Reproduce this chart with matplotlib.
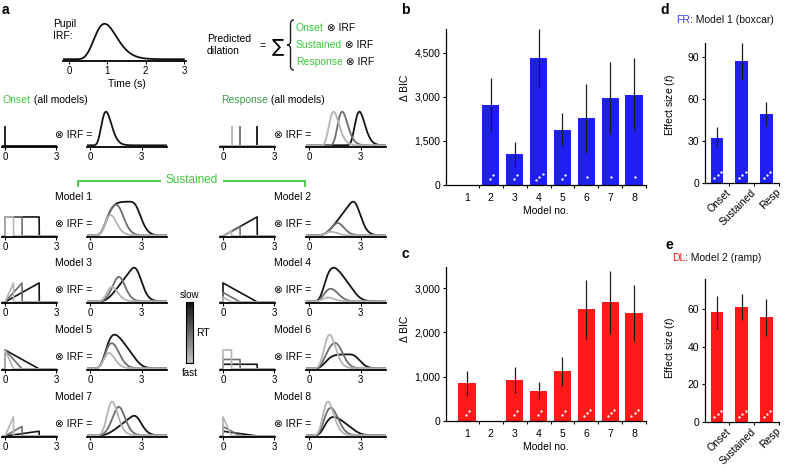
import numpy as np
import matplotlib.pyplot as plt
from matplotlib.colors import LinearSegmentedColormap
from matplotlib.transforms import blended_transform_factory, ScaledTranslation
from matplotlib.path import Path
from matplotlib.patches import PathPatch

plt.rcParams['font.family'] = ['Liberation Sans', 'DejaVu Sans']
plt.rcParams['font.size'] = 7
plt.rcParams['mathtext.fontset'] = 'custom'
plt.rcParams['mathtext.it'] = 'Liberation Sans:italic'
plt.rcParams['mathtext.rm'] = 'Liberation Sans'

W, H = 788, 472

# ---- panels b, c: delta BIC per model ----
models = [1, 2, 3, 4, 5, 6, 7, 8]
fr_bic = [0, 2720, 1060, 4300, 1860, 2290, 2950, 3070]
fr_bic_lo = [0, 1810, 620, 3300, 1320, 1095, 1740, 1830]
fr_bic_hi = [0, 3620, 1470, 5290, 2430, 3445, 4180, 4300]
fr_stars = [0, 2, 2, 3, 2, 1, 1, 1]
dl_bic = [850, 0, 935, 678, 1120, 2520, 2680, 2450]
dl_bic_lo = [562, 0, 638, 500, 800, 1860, 1970, 1810]
dl_bic_hi = [1140, 0, 1225, 880, 1445, 3180, 3380, 3072]
dl_stars = [2, 0, 2, 2, 2, 3, 3, 3]

# ---- panels d, e: effect sizes ----
regressors = ['Onset', 'Sustained', 'Resp']
fr_t = [32.4, 87.2, 49.4]
fr_t_lo = [25.5, 74.2, 41.1]
fr_t_hi = [39.7, 100.0, 57.6]
fr_t_stars = [3, 3, 3]
dl_t = [58.2, 61.0, 55.7]
dl_t_lo = [49.3, 54.3, 45.7]
dl_t_hi = [66.8, 68.2, 65.6]
dl_t_stars = [3, 3, 3]

# ---- panel a: schematic ----
rts = [0.5, 1.0, 2.0]            # fast, medium, slow RT (s)
rt_colors = ['#b4b4b4', '#6e6e6e', '#151515']
irf_n, irf_tmax = 10.1, 0.93     # pupil IRF (Hoeks & Levelt)

BLUE = '#1f1ff2'
RED = '#ff1a1a'
GREEN = '#3cc83c'
GREEN2 = '#3a9f48'

fig = plt.figure(figsize=(W / 100, H / 100), dpi=100)
bg = fig.add_axes([0, 0, 1, 1])
bg.set_xlim(0, W)
bg.set_ylim(H, 0)
bg.axis('off')


def px_axes(x0, x1, y0, y1):
    return fig.add_axes([x0 / W, 1 - y1 / H, (x1 - x0) / W, (y1 - y0) / H])


def time_axes(zero_px, scale, lo, hi, y_top, y_spine, ticks):
    ax = px_axes(zero_px + lo * scale, zero_px + hi * scale, y_top, y_spine)
    ax.set_xlim(lo, hi)
    ax.set_ylim(-0.05, 1.05)
    for s in ['top', 'right', 'left']:
        ax.spines[s].set_visible(False)
    ax.spines['bottom'].set_linewidth(1.3)
    ax.set_yticks([])
    ax.set_xticks(ticks)
    ax.set_xticklabels([str(v) for v in ticks])
    ax.tick_params(axis='x', length=2, width=0.8, pad=1.5, labelsize=7)
    ax.patch.set_visible(False)
    return ax


def multi_text(x, y, parts, size=7.5):
    t = bg.text(x, y, parts[0][0], color=parts[0][1], fontsize=size, va='center', ha='left')
    for s, c in parts[1:]:
        t = bg.annotate(s, xy=(1, 0), xycoords=t, color=c, fontsize=size, va='bottom', ha='left')
    return t


def brace(x0, x1, y0, y1):
    xm = (x0 + x1) / 2
    ym = (y0 + y1) / 2
    r = 4
    verts = [(x1, y0), (xm, y0), (xm, y0 + r), (xm, ym - r), (xm, ym), (x0, ym),
             (xm, ym), (xm, ym + r), (xm, y1 - r), (xm, y1), (x1, y1)]
    codes = [Path.MOVETO, Path.CURVE3, Path.CURVE3, Path.LINETO, Path.CURVE3, Path.CURVE3,
             Path.CURVE3, Path.CURVE3, Path.LINETO, Path.CURVE3, Path.CURVE3]
    bg.add_patch(PathPatch(Path(verts, codes), fc='none', ec='#222', lw=1.0))


# IRF and kernels
dt = 0.005
t = np.arange(0, 4.6, dt)
irf = t ** irf_n * np.exp(-irf_n * t / irf_tmax)
irf = irf / irf.sum()


def kernel(model, rt):
    if model == 1:
        k = np.ones_like(t)
    elif model == 2:
        k = t.copy()
    elif model == 3:
        k = t / rt
    elif model == 4:
        k = rt - t
    elif model == 5:
        k = 1 - t / rt
    elif model == 6:
        k = np.full_like(t, 1 / rt)
    elif model == 7:
        k = t / rt ** 2
    else:
        k = (1 - t / rt) / rt
    return np.where(t < rt, k, 0.0)


def conv(k):
    return np.convolve(k, irf)[:len(t)]


K_ZERO_L, O_ZERO_L = 5, 90
K_ZERO_R, O_ZERO_R = 223, 309
K_SCALE, O_SCALE = 17.1, 17.2


def kernel_axes(zero, spine):
    return time_axes(zero, K_SCALE, -0.15, 3.05, spine - 21, spine, [0, 3])


def output_axes(zero, spine):
    return time_axes(zero, O_SCALE, -0.17, 4.5, spine - 37, spine, [0, 3])


# top: IRF
ax = time_axes(69, 38.3, -0.16, 3.05, 22, 61, [0, 1, 2, 3])
sel = t <= 3.0
ax.plot(np.r_[-0.16, t[sel]], np.r_[0, irf[sel] / irf.max()], color='#111', lw=1.3)
bg.text(53, 30, 'Pupil\nIRF:', fontsize=7.5, va='center', ha='left', linespacing=1.15)
bg.text(127, 84, 'Time (s)', fontsize=7.5, ha='center', va='center')

bg.text(207, 45, 'Predicted\ndilation', fontsize=7.5, va='center', ha='left', linespacing=1.15)
bg.text(263, 46, '=', fontsize=7.5, va='center', ha='center')
bg.text(278, 46, '\u2211', fontsize=13, va='center', ha='center', family='DejaVu Sans')
brace(287, 294, 20, 70)
for yy, name in zip([28, 45, 62], ['Onset', 'Sustained', 'Response']):
    multi_text(296, yy, [(name, GREEN), (' \u2297 IRF', 'black')])

# onset row
multi_text(3, 100, [('Onset', GREEN), (' (all models)', 'black')])
multi_text(221, 100, [('Response', GREEN2), (' (all models)', 'black')])

ax = kernel_axes(K_ZERO_L, 147)
ax.plot([-0.15, 3.0], [0, 0], color=rt_colors[2], lw=1.3)
ax.plot([0, 0], [0, 1], color=rt_colors[2], lw=1.3)
bg.text(55, 135, '\u2297 IRF =', fontsize=7.5, va='center')
ax = output_axes(O_ZERO_L, 147)
y = irf / irf.max()
ax.plot(np.r_[-0.17, t], np.r_[0, y], color=rt_colors[2], lw=1.3)

ax = kernel_axes(K_ZERO_R, 147)
for rt, c in list(zip(rts, rt_colors))[::-1]:
    ax.plot([-0.15, 3.0], [0, 0], color=c, lw=1.3)
    ax.plot([rt, rt], [0, 1], color=c, lw=1.3)
bg.text(274, 135, '\u2297 IRF =', fontsize=7.5, va='center')
ax = output_axes(O_ZERO_R, 147)
resp = []
for rt in rts:
    shift = int(round(rt / dt))
    resp.append(np.r_[np.zeros(shift), irf[:len(t) - shift]])
m = max(r.max() for r in resp)
for r, c in list(zip(resp, rt_colors))[::-1]:
    ax.plot(np.r_[-0.17, t], np.r_[0, r / m], color=c, lw=1.3)

# sustained bracket
bg.plot([78, 78, 160], [186, 181, 181], color=GREEN, lw=1.3)
bg.plot([224, 305, 305], [181, 181, 186], color=GREEN, lw=1.3)
bg.text(192, 180, 'Sustained', color=GREEN, fontsize=8.5, ha='center', va='center')

row_spines = [237, 303, 370, 437]
for i, spine in enumerate(row_spines):
    for j, (kz, oz, tx) in enumerate([(K_ZERO_L, O_ZERO_L, 55), (K_ZERO_R, O_ZERO_R, 274)]):
        model = 2 * i + j + 1
        bg.text(tx, spine - 40, 'Model %d' % model, fontsize=7.5, va='center', ha='left')
        bg.text(tx, spine - 13, '\u2297 IRF =', fontsize=7.5, va='center', ha='left')
        ks = [kernel(model, rt) for rt in rts]
        km = max(k.max() for k in ks)
        ax = kernel_axes(kz, spine)
        sel = t <= 3.0
        for k, c in list(zip(ks, rt_colors))[::-1]:
            ax.plot(np.r_[-0.15, 0, t[sel]], np.r_[0, 0, k[sel] / km], color=c, lw=1.2)
        outs = [conv(k) for k in ks]
        om = max(o.max() for o in outs)
        ax = output_axes(oz, spine)
        for o, c in list(zip(outs, rt_colors))[::-1]:
            ax.plot(np.r_[-0.17, t], np.r_[0, o / om], color=c, lw=1.3)

# RT colour bar
cax = px_axes(186, 193, 302, 363)
cmap = LinearSegmentedColormap.from_list('rt', ['#c4c4c4', '#101010'])
cax.imshow(np.linspace(0, 1, 100)[:, None], cmap=cmap, aspect='auto', origin='lower')
cax.set_xticks([])
cax.set_yticks([])
for s in cax.spines.values():
    s.set_linewidth(0.8)
bg.text(189.5, 295, 'slow', fontsize=7, ha='center', va='center')
bg.text(189.5, 373, 'fast', fontsize=7, ha='center', va='center')
bg.text(196, 333, 'RT', fontsize=7.5, ha='left', va='center')


# ---- bar panels ----
def bar_style(ax):
    for s in ['top', 'right']:
        ax.spines[s].set_visible(False)
    for s in ['left', 'bottom']:
        ax.spines[s].set_linewidth(0.9)
    ax.tick_params(axis='y', length=2.5, width=0.8, pad=1.5, labelsize=7.5)
    ax.tick_params(axis='x', which='major', length=0, pad=6, labelsize=7.5)
    ax.tick_params(axis='x', which='minor', length=2.5, width=0.8)
    ax.patch.set_visible(False)


def draw_bars(ax, x, vals, lo, hi, stars, color, width, h_px):
    ax.bar(x, vals, width=width, color=color, zorder=2)
    for xi, v, l, h in zip(x, vals, lo, hi):
        if v > 0:
            ax.vlines(xi, l, h, color='#1a1a1a', lw=0.9, zorder=3)
    tr = blended_transform_factory(ax.transData, ax.transAxes)
    dy = 3.2 / h_px
    for xi, n in zip(x, stars):
        if n == 0:
            continue
        off = np.arange(n) - (n - 1) / 2
        ax.plot(xi + 0.03 + 0.14 * off, 8 / h_px + dy * off, 'o', ms=1.7, mec='none',
                color='white', transform=tr, zorder=4)


xpos = np.arange(1, len(models) + 1)
for (y0, y1, vals, lo, hi, stars, color, ymax, yt, letter_y, lab_frac) in [
        (29, 185, fr_bic, fr_bic_lo, fr_bic_hi, fr_stars, BLUE, 5300, [0, 1500, 3000, 4500], 10, 0.62),
        (267, 421, dl_bic, dl_bic_lo, dl_bic_hi, dl_stars, RED, 3480, [0, 1000, 2000, 3000], 254, 0.6)]:
    ax = px_axes(446, 646, y0, y1)
    draw_bars(ax, xpos, vals, lo, hi, stars, color, 0.72, y1 - y0)
    ax.set_xlim(0.12, 8.5)
    ax.set_ylim(0, ymax)
    ax.set_yticks(yt)
    ax.set_yticklabels(['{:,}'.format(v) for v in yt])
    ax.set_xticks(xpos)
    ax.set_xticklabels([str(m) for m in models])
    ax.set_xticks(xpos + 0.5, minor=True)
    bar_style(ax)
    ax.set_xlabel('Model no.', fontsize=7.5, labelpad=2)
    ax.set_ylabel('\u0394 BIC', fontsize=7.5)
    ax.yaxis.set_label_coords(-36 / 200, lab_frac)
    bg.text(405, letter_y, 'b' if color == BLUE else 'c', fontsize=10, weight='bold',
            ha='center', va='center')

rpos = np.arange(1, len(regressors) + 1)
for (y0, y1, vals, lo, hi, stars, color, ymax, yt, letter, lx, ly, name, rest, tx, ty, lab_frac) in [
        (43, 183, fr_t, fr_t_lo, fr_t_hi, fr_t_stars, BLUE, 100, [0, 30, 60, 90], 'd', 665, 10,
         'FR', ': Model 1 (boxcar)', 676, 20, 0.56),
        (279, 422, dl_t, dl_t_lo, dl_t_hi, dl_t_stars, RED, 76, [0, 20, 40, 60], 'e', 669, 245,
         'DL', ': Model 2 (ramp)', 672, 258, 0.52)]:
    ax = px_axes(705, 779, y0, y1)
    draw_bars(ax, rpos, vals, lo, hi, stars, color, 0.52, y1 - y0)
    ax.set_xlim(0.51, 3.52)
    ax.set_ylim(0, ymax)
    ax.set_yticks(yt)
    ax.set_xticks(rpos)
    ax.set_xticks(rpos + 0.5, minor=True)
    bar_style(ax)
    ax.tick_params(axis='x', which='major', pad=3)
    ax.set_xticklabels(regressors, rotation=45, ha='right', va='top', rotation_mode='anchor')
    for lab in ax.get_xticklabels():
        lab.set_transform(lab.get_transform() + ScaledTranslation(0.09, 0, fig.dpi_scale_trans))
    ax.set_ylabel('Effect size ($\\it{t}$)', fontsize=7.5)
    ax.yaxis.set_label_coords(-28 / 74, lab_frac)
    bg.text(lx, ly, letter, fontsize=10, weight='bold', ha='center', va='center')
    multi_text(tx, ty, [(name, '#3a3af5' if color == BLUE else RED), (rest, '#111')], size=7.5)

bg.text(5, 10, 'a', fontsize=10, weight='bold', ha='center', va='center')

fig.savefig('out.png', dpi=100)
